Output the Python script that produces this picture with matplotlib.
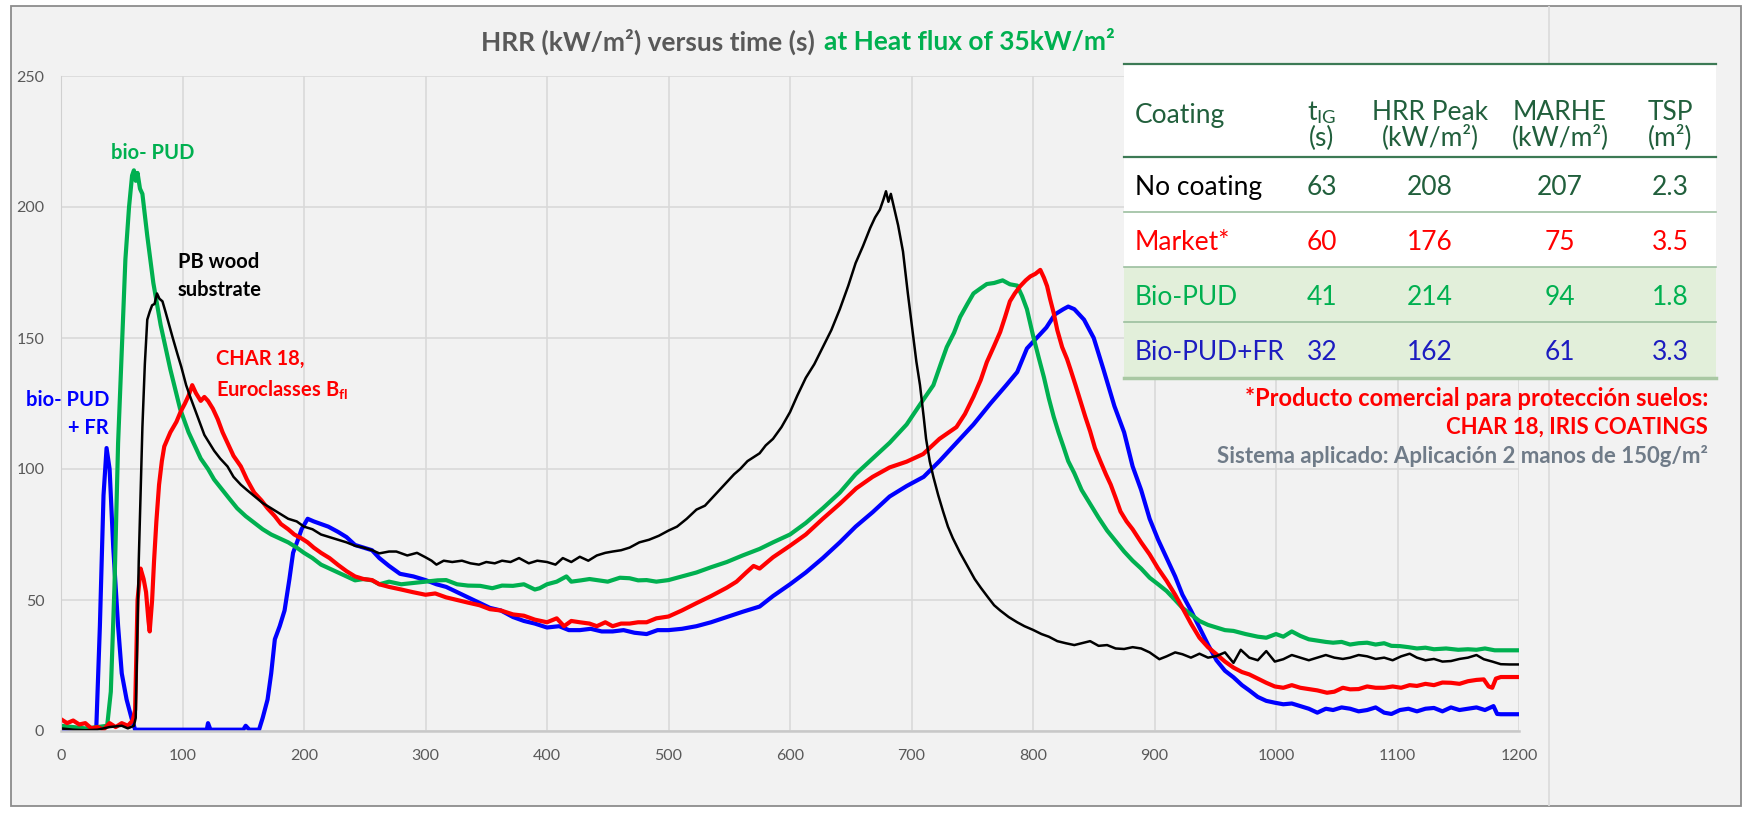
import matplotlib.pyplot as plt
from matplotlib.patches import Rectangle

plt.rcParams['font.family'] = ['Lato', 'DejaVu Sans']
plt.rcParams['mathtext.fontset'] = 'custom'
plt.rcParams['mathtext.rm'] = 'Lato'
plt.rcParams['mathtext.bf'] = 'Lato:bold'
plt.rcParams['mathtext.it'] = 'Lato:italic'

# ---- curves: time (s) and HRR (kW/m2) ----
t_fr = [0, 10, 20, 29, 32, 35, 37.5, 40, 43, 47, 50, 54, 58, 61, 80, 100, 120, 121, 123, 140, 150, 152,
        155, 163, 166, 170, 173, 176, 180, 184, 188, 191, 195, 198, 203, 208, 214, 220, 228, 235, 242,
        249, 256, 262, 270, 279, 290, 300, 309, 317, 326, 335, 344, 353, 362, 372, 381, 390, 400, 410,
        418, 427, 436, 445, 454, 463, 472, 482, 491, 500, 511, 523, 535, 548, 561, 575, 586, 600, 613,
        627, 641, 654, 668, 682, 696, 710, 723, 737, 751, 765, 778, 787, 795, 803, 811, 818, 825, 829,
        834, 842, 850, 858, 867, 875, 882, 889, 896, 903, 910, 917, 923, 930, 937, 944, 951, 958, 965,
        972, 978, 985, 992, 999, 1006, 1013, 1020, 1027, 1034, 1041, 1047, 1054, 1061, 1068, 1075, 1082,
        1089, 1095, 1102, 1109, 1116, 1123, 1130, 1137, 1144, 1151, 1158, 1165, 1172, 1179, 1182, 1185,
        1200]
hrr_fr = [0.5, 0.5, 0.3, 0.5, 40, 90, 108, 100, 70, 40, 22, 12, 5, 0.5, 0.5, 0.5, 0.5, 3, 0.5, 0.5, 0.5, 2,
          0.5, 0.5, 5, 12, 22, 35, 40, 46, 58, 68, 73, 77, 81, 80, 79, 78, 76, 74, 71,
          70, 69, 66, 63, 60, 59, 57.6, 56, 55, 53, 51, 49, 47, 46, 43.5, 42, 41, 39.5, 40,
          38.5, 38.5, 39, 38, 38, 38.5, 37.5, 37, 38.5, 38.5, 39, 40, 41.5, 43.5, 45.5, 47.5, 51.5, 56, 60.5,
          66, 72, 78, 83.5, 89.5, 93.5, 97, 103, 110, 117, 125, 132, 137, 146, 150, 154, 159, 161, 162,
          161, 157, 150, 138, 124, 114, 101, 92, 81, 73, 66, 59, 52, 46, 39.5, 33, 27, 23, 20.5,
          17.5, 15.5, 13, 11.5, 10.8, 10.2, 10.5, 9.5, 8.5, 7, 8.5, 8, 9, 8.5, 7.5, 8, 9,
          7, 6.5, 8, 8.5, 7.5, 8.5, 8.8, 7.5, 9, 8, 8.5, 9, 8, 9.5, 6.5, 6.4,
          6.4]

t_pud = [0, 10, 20, 30, 38, 41, 44, 47, 50, 53, 56, 58.5, 60, 61.5, 63, 65, 67, 71, 76, 82, 90, 98, 105,
         110, 115, 121, 126, 132, 138, 145, 152, 159, 166, 173, 180, 187, 194, 200, 207, 214, 221, 228,
         235, 242, 249, 256, 262, 270, 280, 290, 300, 310, 317, 326, 335, 345, 355, 363, 372, 381, 390,
         394, 400, 408, 416, 420, 428, 435, 441, 450, 460, 468, 475, 482, 490, 500, 511, 523, 535, 548,
         561, 575, 586, 600, 613, 627, 641, 654, 668, 682, 696, 707, 718, 724, 729, 735, 740, 746, 751,
         757, 762, 768, 775, 781, 787, 791, 795, 800, 805, 809, 813, 817, 821, 825, 829, 834, 840, 847,
         854, 861, 868, 875, 882, 889, 896, 903, 910, 917, 923, 930, 937, 944, 951, 958, 965, 975, 985,
         992, 1000, 1006, 1013, 1020, 1027, 1034, 1041, 1047, 1054, 1061, 1068, 1075, 1082, 1089, 1095,
         1102, 1109, 1116, 1123, 1130, 1140, 1150, 1158, 1165, 1172, 1180, 1190, 1200]
hrr_pud = [2, 1.5, 1, 1.5, 2, 15, 55, 110, 145, 180, 200, 212, 214, 210, 213, 207, 205, 189, 171, 155, 138, 123, 114,
           109, 104, 100, 96, 92.5, 89, 85, 82, 79.5, 77, 75, 73.5, 72, 70, 68, 66, 63.5, 62, 60.5,
           59, 57.5, 58, 57.5, 56, 57, 56, 56.5, 57, 57.5, 57.6, 56, 55.5, 55.4, 54.5, 55.5, 55.4, 56, 54,
           54.5, 56, 57, 59, 57, 57.5, 58, 57.6, 57, 58.5, 58.3, 57.5, 57.6, 57, 57.6, 59, 60.5, 62.5, 64.5,
           67, 69.5, 72, 75, 79.4, 85, 91, 98, 104, 110, 117, 124.6, 132, 140, 146.5, 152, 158, 163, 167,
           169, 170.6, 171, 172, 170.5, 170, 166, 161, 151, 142, 135, 127, 120, 114, 108.6, 103, 98.4, 92, 86.7,
           81.4, 76.5, 72.5, 68.5, 65, 62, 58.5, 56, 53.4, 50, 47, 44.5, 42, 40.5, 39.5, 38.5, 38.2, 37, 36,
           35.6, 37, 36, 38, 36.3, 35, 34.5, 34, 33.7, 34, 33, 33.5, 33.7, 33, 33.5, 32.5,
           32.4, 32, 31.5, 31.8, 31.2, 31.5, 31, 31.2, 31, 31.5, 30.8, 30.8, 30.8]

t_wood = [0, 10, 20, 30, 40, 50, 55, 60, 61.5, 63, 64, 66, 67, 69, 71, 73, 75, 77, 79, 81, 83.5, 86, 89, 92,
          96, 99, 103, 106, 110, 114, 118, 122, 126, 131, 137, 142, 148, 153, 159, 166, 173, 180, 187, 194,
          200, 207, 214, 221, 228, 235, 242, 249, 256, 262, 270, 276, 285, 293, 300, 305, 309, 315, 322,
          330, 337, 344, 350, 357, 363, 370, 377, 385, 392, 400, 407, 413, 420, 427, 434, 441, 448, 454,
          461, 468, 476, 484, 492, 500, 507, 515, 523, 530, 536, 542, 548, 554, 559, 565, 570, 575, 580,
          586, 593, 600, 606, 613, 620, 627, 634, 641, 648, 654, 660, 666, 670, 674, 677, 679, 681, 683,
          686, 689, 693, 697, 701, 704, 707, 710, 712, 715, 718, 722, 726, 730, 734, 740, 746, 752, 757,
          763, 768, 773, 780, 787, 793, 800, 807, 813, 820, 827, 834, 840, 847, 854, 861, 868, 875, 882,
          889, 896, 904, 910, 917, 923, 930, 937, 944, 951, 958, 965, 971, 978, 985, 992, 999, 1006, 1013,
          1020, 1027, 1034, 1041, 1048, 1055, 1061, 1068, 1075, 1082, 1089, 1096, 1103, 1110, 1116, 1123,
          1130, 1137, 1144, 1151, 1158, 1165, 1171, 1178, 1185, 1192, 1200]
hrr_wood = [1, 0.5, 0.3, 0.5, 1.5, 2, 1, 2, 5, 40, 65, 100, 116, 140, 157, 160, 162.5, 163, 167, 165, 164, 160, 155, 150,
            143.6, 139, 132, 128, 123, 118, 113, 110, 107, 104, 101, 97, 94, 92, 89.7, 87, 85, 83, 81, 80,
            78, 77, 75, 74, 73, 72, 70.7, 70, 69, 67.8, 68.5, 68.5, 67, 68, 66.3, 65, 63.5, 65, 64.5,
            65, 64, 63.5, 64.5, 64, 65, 64.5, 66, 64, 65, 64.5, 63.5, 66, 64.5, 66.5, 65, 67, 68, 68.5,
            69, 70, 72, 73, 74.5, 76.5, 78, 81, 84.5, 86, 89, 92, 95, 98, 100, 103, 104.5, 106, 109,
            111.5, 116, 121.7, 128, 134.8, 140, 146.5, 153, 161, 170, 178.6, 185, 192, 196, 199, 203, 206, 202, 205,
            199, 193, 183, 167, 152, 141, 132, 120, 111.5, 103, 97, 90, 83.8, 78, 73.6, 68, 63, 58, 54.7,
            51, 48, 46, 43.5, 41.5, 40, 38.6, 37, 36, 34.3, 33.5, 32.8, 33.5, 34.3, 32.5, 32.8, 31.5, 31.3, 32,
            31.5, 30, 27.4, 28.5, 30, 29.3, 28, 29.5, 28, 28.6, 30, 26, 31, 28, 27, 30.5, 26.5, 27.4, 29,
            28, 27, 28, 29, 28, 27.5, 28, 29, 28.5, 27.5, 28, 27, 28.5, 29.5, 28, 27,
            27.5, 26.5, 26.7, 27.5, 28, 29, 27.4, 26.5, 25.5, 25.4, 25.4]

t_char = [0, 5, 10, 15, 20, 25, 30, 35, 40, 45, 50, 55, 59, 61, 63, 65.5, 68, 70, 72, 73, 75, 76.6, 78.5,
          80.7, 83, 85, 90, 95, 98.6, 102, 105, 108, 111, 115, 118, 121, 125, 129, 133, 137, 142, 148,
          153, 159, 165, 170, 176, 181, 187, 192, 198, 203, 208, 214, 221, 228, 235, 242, 249, 256, 262,
          270, 280, 289.5, 300, 308, 317, 326, 335, 344.5, 353, 362, 372, 381, 390, 400, 408, 414, 420,
          427, 435, 441, 448, 454, 461, 468, 475, 482, 490, 500, 511, 523, 535, 548, 556, 564, 570, 575,
          586, 600, 613, 627, 641, 654.5, 668, 682, 696, 709.6, 723, 737, 744, 751, 757, 762, 768, 773,
          777, 781, 785, 789.5, 794, 797.8, 802, 806, 809, 811.6, 814, 817, 820, 824, 828, 831, 835, 839,
          843, 847, 851, 855.6, 860, 864, 868, 872, 877, 882, 889, 896, 903, 910, 917, 923, 930, 937, 944,
          951, 958, 965, 972, 978, 985, 992, 999, 1006, 1013, 1020, 1027, 1034, 1042, 1048, 1055, 1061,
          1068, 1075, 1082, 1089, 1096, 1103, 1110, 1116, 1123, 1130, 1137, 1144, 1151, 1158, 1165, 1171,
          1175, 1178, 1181, 1185, 1200]
hrr_char = [4.5, 3, 4, 2.5, 3, 1, 1.5, 0.5, 3, 1.5, 3, 2, 4, 8, 50, 62, 58, 53, 42, 38, 50, 65, 80,
            94, 103, 108.6, 114, 118, 122, 125, 128, 132, 129, 126, 127.5, 126, 123, 119, 114, 110, 105, 101,
            96, 91, 88, 85, 82, 79, 77, 75, 73.5, 72, 70, 68, 66, 63.4, 61, 59, 58, 57.6, 56,
            55, 54, 53, 52, 52.5, 51, 50, 49, 48, 46.5, 46, 44.5, 44, 42.5, 41.5, 43, 40, 42,
            41.5, 41, 40, 41.5, 40, 41, 41, 41.5, 41.5, 43, 43.7, 46, 48.8, 51.5, 54.7, 57, 60.5, 63, 62,
            66.3, 70.7, 75, 81, 86.7, 92.6, 97, 100.6, 102.8, 105.7, 111.5, 116, 121, 127.6, 134, 140.8, 147, 152.3,
            158, 164, 167, 169.8, 172, 173.5, 174.5, 176, 173, 169.8, 165, 159.6, 153, 146.5, 142, 137.8, 132, 126,
            120, 114.4, 108, 102.8, 98, 94, 89, 83.8, 80, 77, 72, 67.4, 62, 57.3, 52, 47, 41, 35.6, 32,
            29.3, 26.5, 24.2, 22.5, 21.6, 20, 18.4, 17, 16.5, 17.5, 16.5, 16, 15.5, 14.6, 15, 16.5, 15.9,
            16, 17, 16.5, 16.5, 17, 16.5, 17.5, 17.2, 18, 17.5, 18.5, 18.4, 18, 19, 19.5, 19.7,
            17, 16.5, 20, 20.6, 20.6]

# ---- table ----
table_head = ["Coating", r"t$_{\mathrm{IG}}$" + "\n(s)", "HRR Peak\n(kW/m²)", "MARHE\n(kW/m²)", "TSP\n(m²)"]
coatings = ["No coating", "Market*", "Bio-PUD", "Bio-PUD+FR"]
t_ig = ["63", "60", "41", "32"]
hrr_peak = ["208", "176", "214", "162"]
marhe = ["207", "75", "94", "61"]
tsp = ["2.3", "3.5", "1.8", "3.3"]

GREEN = '#00b050'
RED = '#ff0000'
BLUE = '#0000ff'
DKGREEN = '#215f3c'
GREY = '#595959'

W, H = 1750, 816
fig = plt.figure(figsize=(W / 100, H / 100), dpi=100, facecolor='white')

# background frame (pixel coordinates, y down)
bg = fig.add_axes([0, 0, 1, 1], zorder=-1)
bg.set_xlim(0, W)
bg.set_ylim(H, 0)
bg.axis('off')
bg.add_patch(Rectangle((11, 6), 1730, 800, facecolor='#f2f2f2', edgecolor='#8c8c8c', lw=1.3))
bg.plot([1549, 1549], [7, 805], color='#dcdcdc', lw=1.3)

# main plot
ax = fig.add_axes([61 / W, 1 - 731 / H, (1519 - 61) / W, (731 - 76) / H])
ax.set_facecolor('none')
ax.plot(t_fr, hrr_fr, color=BLUE, lw=3.0, solid_joinstyle='round')
ax.plot(t_pud, hrr_pud, color=GREEN, lw=3.0, solid_joinstyle='round')
ax.plot(t_char, hrr_char, color=RED, lw=3.0, solid_joinstyle='round')
ax.plot(t_wood, hrr_wood, color='black', lw=1.8, solid_joinstyle='round')
ax.set_xlim(0, 1200)
ax.set_ylim(0, 250)
ax.set_xticks(range(0, 1201, 100))
ax.set_yticks(range(0, 251, 50))
ax.grid(True, color='#d9d9d9', lw=1.2)
ax.set_axisbelow(True)
for s in ['top', 'right']:
    ax.spines[s].set_visible(False)
ax.spines['left'].set_color('#d0d0d0')
ax.spines['bottom'].set_color('#c8c8c8')
ax.spines['bottom'].set_linewidth(1.8)
ax.tick_params(length=0, labelsize=11.5, labelcolor=GREY)
ax.tick_params(axis='x', pad=13)
ax.tick_params(axis='y', pad=12)

# overlay for labels, title, table and notes (pixel coordinates)
ov = fig.add_axes([0, 0, 1, 1], zorder=3)
ov.set_xlim(0, W)
ov.set_ylim(H, 0)
ov.axis('off')

lab = dict(fontsize=14.5, fontweight='bold', va='center', linespacing=1.5)
ov.text(153, 153, "bio- PUD", color=GREEN, ha='center', **lab)
ov.text(178, 276, "PB wood\nsubstrate", color='black', ha='left', **lab)
ov.text(216, 375, "CHAR 18,\n" + r"Euroclasses B$_{\mathbf{fl}}$", color=RED, ha='left', **lab)
ov.text(109, 414, "bio- PUD\n+ FR", color=BLUE, ha='right', **lab)

ov.text(815, 42, "HRR (kW/m²) versus time (s)", color=GREY, ha='right', va='center',
        fontsize=19, fontweight='bold')
ov.text(824, 42, "at Heat flux of 35kW/m²", color=GREEN, ha='left', va='center',
        fontsize=19, fontweight='bold')

tl, tr = 1124, 1716
row_y = [64, 157, 212, 267, 322, 378]
ov.add_patch(Rectangle((tl, row_y[0]), tr - tl, row_y[3] - row_y[0], facecolor='white', edgecolor='none'))
ov.add_patch(Rectangle((tl, row_y[3]), tr - tl, row_y[5] - row_y[3], facecolor='#e2efda', edgecolor='none'))
ov.plot([tl, tr], [row_y[0], row_y[0]], color='#3c7a55', lw=1.6)
ov.plot([tl, tr], [row_y[1], row_y[1]], color='#3c7a55', lw=1.6)
for y in row_y[2:5]:
    ov.plot([tl, tr], [y, y], color='#9cbf9f', lw=1.2)
ov.plot([tl, tr], [row_y[5], row_y[5]], color='#a9c8a3', lw=2.5)

col_x = [1135, 1322, 1430, 1560, 1670]
fs_tab = 19
ov.text(col_x[0], 115, table_head[0], color=DKGREEN, ha='left', va='center', fontsize=fs_tab)
for cx, h in zip(col_x[1:], table_head[1:]):
    ov.text(cx, 125, h, color=DKGREEN, ha='center', va='center', fontsize=fs_tab, linespacing=0.98)

row_colors = [('black', DKGREEN), (RED, RED), (GREEN, GREEN), ('#1c1cc0', '#1c1cc0')]
for i, name in enumerate(coatings):
    yc = (row_y[i + 1] + row_y[i + 2]) / 2 + 3
    c_name, c_val = row_colors[i]
    ov.text(col_x[0], yc, name, color=c_name, ha='left', va='center', fontsize=fs_tab)
    for cx, v in zip(col_x[1:], [t_ig[i], hrr_peak[i], marhe[i], tsp[i]]):
        ov.text(cx, yc, v, color=c_val, ha='center', va='center', fontsize=fs_tab)

ov.text(1708, 398, "*Producto comercial para protección suelos:", color=RED, ha='right', va='center',
        fontsize=17, fontweight='bold')
ov.text(1708, 427, "CHAR 18, IRIS COATINGS", color=RED, ha='right', va='center',
        fontsize=16, fontweight='bold')
ov.text(1708, 456, "Sistema aplicado: Aplicación 2 manos de 150g/m²", color='#6f7b88', ha='right',
        va='center', fontsize=16, fontweight='bold')

fig.savefig("out.png", dpi=100, facecolor='white')
